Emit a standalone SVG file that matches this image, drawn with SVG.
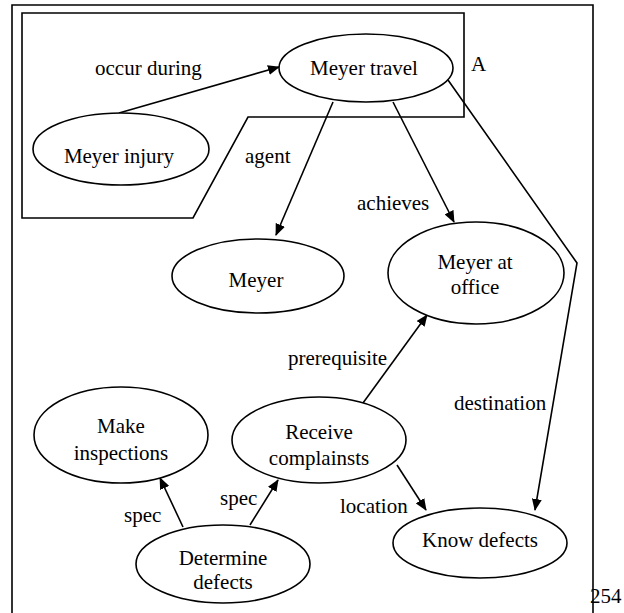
<svg xmlns="http://www.w3.org/2000/svg" width="624" height="613" viewBox="0 0 624 613">
<style>
.n ellipse{fill:#fff;stroke:#000;stroke-width:1.6}
text{font-family:"Liberation Serif","Times New Roman",serif;font-size:21px;fill:#000}
.c{text-anchor:middle}
.e{fill:none;stroke:#000;stroke-width:1.6}
.frame{fill:none;stroke:#000;stroke-width:1.6}
</style>
<defs>
<marker id="ah" markerWidth="12" markerHeight="10" refX="11" refY="5" orient="auto" markerUnits="userSpaceOnUse">
<path d="M0,0 L12,5 L0,10 Z" fill="#000"/>
</marker>
</defs>
<rect width="624" height="613" fill="#fff"/>
<g id="frame">
<path class="frame" d="M12,613 V5 H593 V613" stroke-width="2"/>
<path class="frame" d="M22,13 H464 V117 H248 L193,218 H22 Z" stroke-width="1.3"/>
<text x="471" y="71">A</text>
<text x="590" y="603">254</text>
</g>
<g id="connectors">
<line class="e" x1="119" y1="113" x2="279" y2="67" marker-end="url(#ah)"/>
<line class="e" x1="333" y1="102" x2="276" y2="235" marker-end="url(#ah)"/>
<line class="e" x1="393" y1="102" x2="454" y2="222" marker-end="url(#ah)"/>
<polyline class="e" points="448,80 577,263 535,510" marker-end="url(#ah)"/>
<line class="e" x1="363" y1="403" x2="427" y2="315" marker-end="url(#ah)"/>
<line class="e" x1="397" y1="465" x2="426" y2="510" marker-end="url(#ah)"/>
<line class="e" x1="183" y1="527" x2="160" y2="478" marker-end="url(#ah)"/>
<line class="e" x1="250" y1="525" x2="278" y2="480" marker-end="url(#ah)"/>
<text x="95" y="75">occur during</text>
<text x="245" y="163">agent</text>
<text x="357" y="210">achieves</text>
<text x="288" y="365">prerequisite</text>
<text x="454" y="410">destination</text>
<text x="340" y="513">location</text>
<text x="220" y="505">spec</text>
<text x="124" y="522">spec</text>
</g>
<g id="meyer-travel" class="n"><ellipse cx="366" cy="68" rx="87" ry="34"/><text class="c" x="364" y="75">Meyer travel</text></g>
<g id="meyer-injury" class="n"><ellipse cx="121" cy="149" rx="88" ry="36"/><text class="c" x="119" y="163">Meyer injury</text></g>
<g id="meyer" class="n"><ellipse cx="258" cy="276" rx="86" ry="37"/><text class="c" x="256" y="287">Meyer</text></g>
<g id="meyer-at-office" class="n"><ellipse cx="476" cy="273" rx="88" ry="51"/><text class="c" x="475" y="269">Meyer at</text><text class="c" x="475" y="294">office</text></g>
<g id="make-inspections" class="n"><ellipse cx="121" cy="435" rx="87" ry="48"/><text class="c" x="121" y="433">Make</text><text class="c" x="121" y="460">inspections</text></g>
<g id="receive-complainsts" class="n"><ellipse cx="319" cy="440" rx="87" ry="43"/><text class="c" x="319" y="439">Receive</text><text class="c" x="319" y="465">complainsts</text></g>
<g id="determine-defects" class="n"><ellipse cx="223" cy="564" rx="87" ry="39"/><text class="c" x="223" y="565">Determine</text><text class="c" x="223" y="589">defects</text></g>
<g id="know-defects" class="n"><ellipse cx="480" cy="543" rx="87" ry="35"/><text class="c" x="480" y="547">Know defects</text></g>
</svg>
